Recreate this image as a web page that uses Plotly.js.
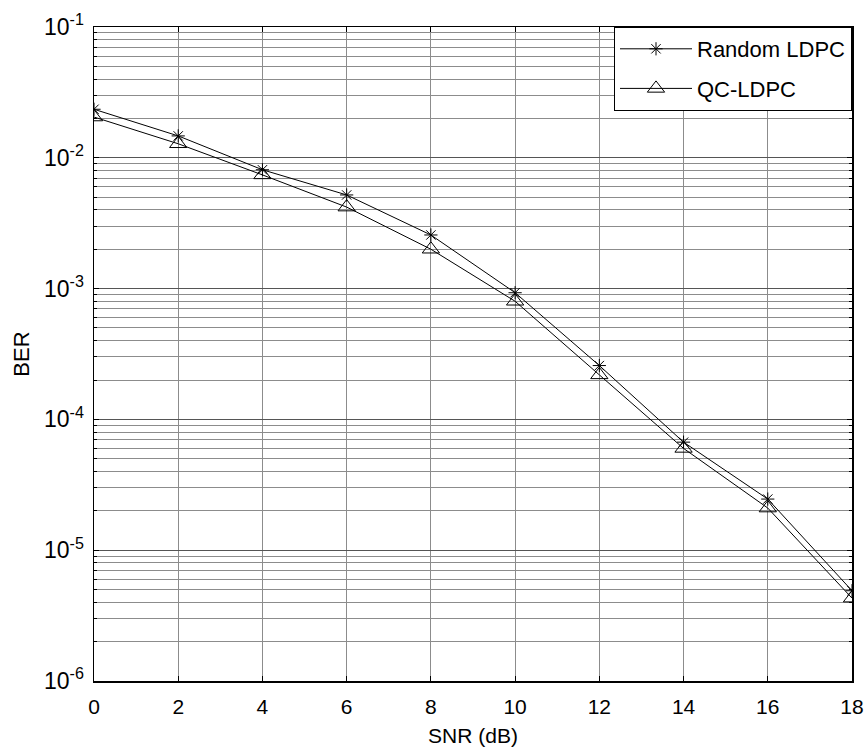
<!DOCTYPE html>
<html>
<head>
<meta charset="utf-8">
<script src="https://cdn.plot.ly/plotly-3.0.1.min.js"></script>
<style>
  html, body { margin: 0; padding: 0; background: #fff; }
  #chart { width: 868px; height: 753px; }
</style>
</head>
<body>
<div id="chart"></div>
<script>
// SNR points in dB
const snr = [0, 2, 4, 6, 8, 10, 12, 14, 16, 18];

// Bit error rate for each code
const berRandom = [0.0235, 0.0147, 0.0081, 0.0052, 0.00257, 0.00093, 0.000258, 0.000067, 0.0000246, 0.0000049];
const berQC     = [0.0205, 0.0128, 0.0074, 0.0042, 0.0020, 0.00080, 0.000219, 0.000060, 0.0000210, 0.0000043];

// Axis ticks
const xTicks = [0, 2, 4, 6, 8, 10, 12, 14, 16, 18];
const yTickVals = [1e-6, 1e-5, 1e-4, 1e-3, 1e-2, 1e-1];
const yTickText = ['10<sup>-6</sup>', '10<sup>-5</sup>', '10<sup>-4</sup>', '10<sup>-3</sup>', '10<sup>-2</sup>', '10<sup>-1</sup>'];

const font = 'Liberation Sans, Arial, Helvetica, sans-serif';

const traces = [
  {
    x: snr, y: berRandom, name: 'Random LDPC', type: 'scatter', mode: 'lines+markers',
    legendgroup: 'a',
    line: { color: '#000', width: 1 },
    marker: { symbol: 'asterisk-open', size: 11, color: '#000', line: { color: '#000', width: 1 } }
  },
  {
    x: snr, y: berQC, name: 'QC-LDPC', type: 'scatter', mode: 'lines+markers',
    legendgroup: 'b',
    line: { color: '#000', width: 1 },
    marker: { symbol: 'triangle-up-open', size: 15, color: '#000', line: { color: '#000', width: 1 } }
  }
];

const layout = {
  width: 868, height: 753,
  margin: { l: 94, r: 16, t: 27, b: 72 },
  paper_bgcolor: '#fff', plot_bgcolor: '#fff',
  font: { family: font, size: 20, color: '#000' },
  showlegend: true,
  legend: {
    x: 1, y: 1, xanchor: 'right', yanchor: 'top',
    bgcolor: '#fff', bordercolor: '#000', borderwidth: 1,
    font: { family: font, size: 22, color: '#000' },
    itemwidth: 72, traceorder: 'grouped', tracegroupgap: 8,
    entrywidth: 264, entrywidthmode: 'pixels'
  },
  xaxis: {
    range: [0, 18], tickvals: xTicks, ticktext: xTicks.map(String),
    ticks: 'inside', ticklen: 5, tickcolor: '#000',
    showline: true, linecolor: '#000', linewidth: 1.5, mirror: 'ticks',
    showgrid: true, gridcolor: '#8c8c8c', gridwidth: 1, zeroline: false,
    tickfont: { family: font, size: 21, color: '#000' },
    ticklabelstandoff: 6,
    title: { text: 'SNR (dB)', font: { family: font, size: 21, color: '#000' }, standoff: 11 }
  },
  yaxis: {
    type: 'log', range: [-6, -1],
    tickvals: yTickVals, ticktext: yTickText,
    ticks: 'inside', ticklen: 5, tickcolor: '#000',
    showline: true, linecolor: '#000', linewidth: 1.5, mirror: 'ticks',
    showgrid: true, gridcolor: '#555', gridwidth: 1, zeroline: false,
    tickfont: { family: font, size: 23, color: '#000' },
    ticklabelstandoff: 4,
    minor: { dtick: 'D1', showgrid: true, gridcolor: '#8c8c8c', gridwidth: 1, ticks: 'inside', ticklen: 3, tickcolor: '#000' },
    title: { text: 'BER', font: { family: font, size: 22, color: '#000' }, standoff: 8 }
  }
};

Plotly.newPlot('chart', traces, layout, { displayModeBar: false, staticPlot: true });
</script>
</body>
</html>
